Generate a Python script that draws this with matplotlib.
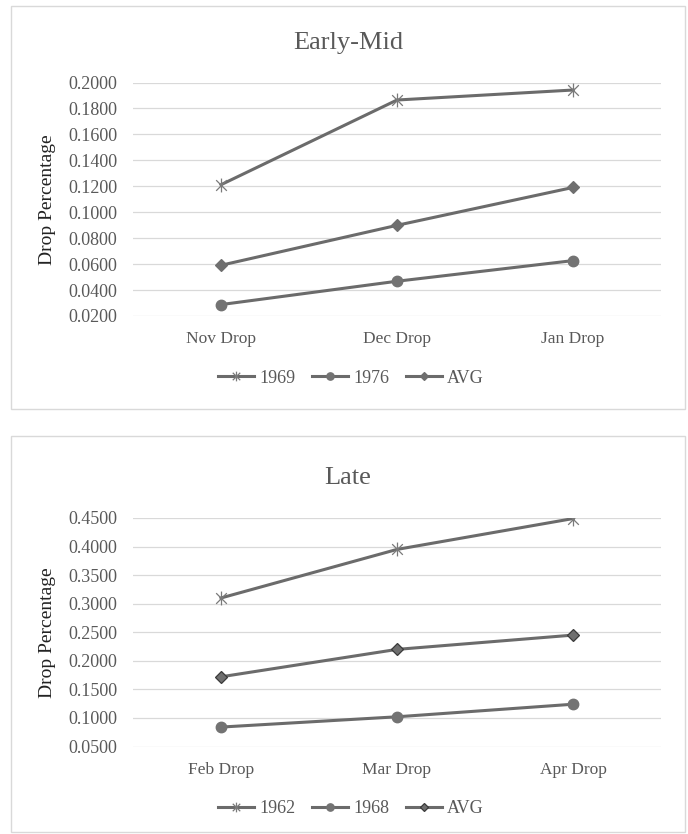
import matplotlib.pyplot as plt
from matplotlib.patches import Rectangle
from matplotlib.path import Path

# early-mid season drops
early_cats = ["Nov Drop", "Dec Drop", "Jan Drop"]
early_1969 = [0.1212, 0.1865, 0.1942]
early_1976 = [0.0288, 0.0468, 0.0627]
early_avg = [0.0591, 0.0899, 0.1191]

# late season drops
late_cats = ["Feb Drop", "Mar Drop", "Apr Drop"]
late_1962 = [0.3100, 0.3950, 0.4490]
late_1968 = [0.0840, 0.1020, 0.1240]
late_avg = [0.1720, 0.2200, 0.2450]

W, H = 688, 834
LINE = "#6b6b6b"
TEXT = "#595959"
GRID = "#d9d9d9"

plt.rcParams["font.family"] = ["Liberation Serif", "DejaVu Serif"]

# star marker: an x with a vertical bar through it
star = Path([(-1, -1), (1, 1), (-1, 1), (1, -1), (0, -1.3), (0, 1.3)],
            [Path.MOVETO, Path.LINETO, Path.MOVETO, Path.LINETO, Path.MOVETO, Path.LINETO])


def box(x0, y0, x1, y1):
    return [x0 / W, 1 - y1 / H, (x1 - x0) / W, (y1 - y0) / H]


def draw_chart(fig, top, bottom, title, cats, series, ylim, yticks, diamond_edge, box_top, box_bottom):
    fig.patches.append(Rectangle((11 / W, 1 - box_bottom / H), 674 / W, (box_bottom - box_top) / H,
                                 transform=fig.transFigure, fill=False, edgecolor=GRID, lw=1.0))
    ax = fig.add_axes(box(133, top, 661, bottom))
    x = list(range(len(cats)))
    handles = []
    for label, vals, kind in series:
        if kind == "star":
            h, = ax.plot(x, vals, color=LINE, lw=2.2, marker=star, markersize=10,
                         markeredgecolor="#7a7a7a", markeredgewidth=0.9, label=label)
        elif kind == "circle":
            h, = ax.plot(x, vals, color=LINE, lw=2.2, marker="o", markersize=7.5,
                         markerfacecolor="#737373", markeredgecolor="#737373", label=label)
        else:
            h, = ax.plot(x, vals, color=LINE, lw=2.2, marker="D", markersize=6.5,
                         markerfacecolor="#6f6f6f", markeredgecolor=diamond_edge,
                         markeredgewidth=0.9, label=label)
        handles.append(h)
    ax.set_xlim(-0.5, len(cats) - 0.5)
    ax.set_ylim(*ylim)
    ax.set_yticks(yticks)
    ax.set_yticklabels(["%.4f" % v for v in yticks])
    ax.set_xticks(x)
    ax.set_xticklabels(cats)
    ax.grid(axis="y", color=GRID, lw=0.9)
    ax.set_axisbelow(True)
    for s in ax.spines.values():
        s.set_visible(False)
    ax.tick_params(axis="y", length=0, pad=11.5, labelsize=13, labelcolor=TEXT)
    ax.tick_params(axis="x", length=0, pad=11, labelsize=12.5, labelcolor=TEXT)
    ax.set_ylabel("Drop Percentage", fontsize=14, color="#222222")
    ax.yaxis.set_label_coords(-0.145, 0.5)
    fig.text(348 / W, 1 - (top - 40) / H, title, ha="center", va="center", fontsize=19, color=TEXT)
    fig.legend(handles=handles, loc="center", bbox_to_anchor=(351 / W, 1 - (bottom + 62) / H),
               ncol=3, frameon=False, fontsize=13, labelcolor=TEXT, handlelength=2.0,
               handletextpad=0.3, columnspacing=0.9, markerscale=0.7)
    return ax


fig = plt.figure(figsize=(W / 100, H / 100), dpi=100)

draw_chart(fig, 82.5, 316, "Early-Mid", early_cats,
           [("1969", early_1969, "star"), ("1976", early_1976, "circle"), ("AVG", early_avg, "diamond")],
           (0.02, 0.2), [0.02 + 0.02 * i for i in range(10)], "#6f6f6f", 6, 409)

draw_chart(fig, 518, 746.5, "Late", late_cats,
           [("1962", late_1962, "star"), ("1968", late_1968, "circle"), ("AVG", late_avg, "diamond")],
           (0.05, 0.45), [0.05 + 0.05 * i for i in range(9)], "#3a3a3a", 436, 832)

fig.savefig("out.png", dpi=100)
